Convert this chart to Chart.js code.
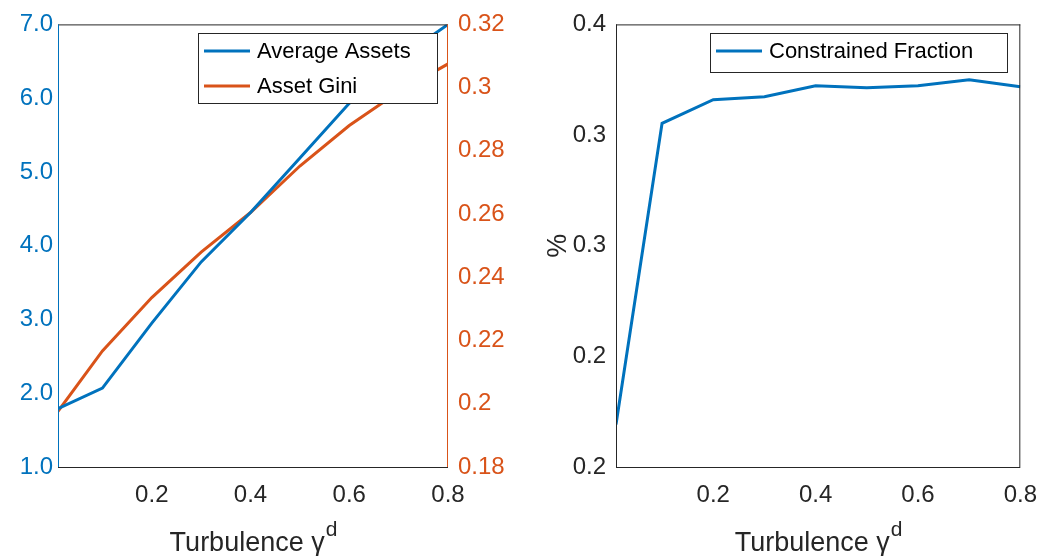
<!DOCTYPE html>
<html><head><meta charset="utf-8">
<script src="https://cdn.jsdelivr.net/npm/chart.js@4/dist/chart.umd.min.js"></script>
<style>body{margin:0;background:#fff;width:1041px;height:556px;overflow:hidden;position:relative}
canvas{position:absolute;top:0}</style></head><body>
<canvas id="c1" width="520" height="556" style="left:0;width:520px;height:556px"></canvas><canvas id="c2" width="531" height="556" style="left:520px;width:531px;height:556px"></canvas>
<script>
const turbulence=[0.01,0.1,0.2,0.3,0.4,0.5,0.6,0.7,0.8];
const averageAssets=[1.79,2.07,2.95,3.78,4.45,5.19,5.93,6.53,7.0];
const assetGini=[0.1976,0.2167,0.2336,0.248,0.2605,0.2752,0.288,0.2987,0.3075];
const constrainedFraction=[0.2192,0.3553,0.366,0.3673,0.3723,0.3714,0.3723,0.375,0.3718];
const leftTicks=['1.0','2.0','3.0','4.0','5.0','6.0','7.0'];
const rightTicks=['0.18','0.2','0.22','0.24','0.26','0.28','0.3','0.32'];
const cfTicks=['0.2','0.2','0.3','0.3','0.4'];
const BLUE='#0072BD',ORANGE='#D95319',DARK='#262626',F='"Liberation Sans", Arial, sans-serif';
Chart.defaults.font.family=F;
function fit(w){return function(s){s.width=w;};}
function fith(h){return function(s){s.height=h;};}
function frame(legendItems,lx,ly,lw,lh,leftCol,rightCol){
 return {id:'fr',afterDraw(c){const a=c.chartArea,x=c.ctx;x.save();x.lineWidth=1;
  x.strokeStyle='#262626';x.beginPath();x.moveTo(a.left,a.bottom+0.5);x.lineTo(a.right,a.bottom+0.5);x.stroke();
  x.beginPath();x.moveTo(a.left,a.top+0.5);x.lineTo(a.right,a.top+0.5);x.stroke();
  x.strokeStyle=leftCol;x.beginPath();x.moveTo(a.left+0.5,a.top);x.lineTo(a.left+0.5,a.bottom);x.stroke();
  x.strokeStyle=rightCol;x.beginPath();x.moveTo(a.right-0.5,a.top);x.lineTo(a.right-0.5,a.bottom);x.stroke();
  x.fillStyle=DARK;x.font='27px '+F;x.textBaseline='alphabetic';
  const t='Turbulence \u03b3',w=x.measureText(t).width;x.font='21px '+F;const w2=x.measureText('d').width;
  const sx=(a.left+a.right)/2-(w+w2)/2;x.font='27px '+F;x.fillText(t,sx,551);x.font='21px '+F;x.fillText('d',sx+w+1,536);
  x.fillStyle='#fff';x.fillRect(lx,ly,lw,lh);x.strokeStyle='#262626';x.lineWidth=1;x.strokeRect(lx+0.5,ly+0.5,lw,lh);
  x.font='22px '+F;x.textBaseline='middle';
  legendItems.forEach((it,i)=>{const yy=ly+18+i*35;x.strokeStyle=it[1];x.lineWidth=3;x.beginPath();x.moveTo(lx+6,yy);x.lineTo(lx+52,yy);x.stroke();x.fillStyle='#000';x.fillText(it[0],lx+59,yy+1);});
  x.restore();}};
}
function xAxis(){return {type:'linear',min:0.01,max:0.8,afterFit:fith(89),grid:{display:false,drawTicks:false},border:{display:false},
 afterBuildTicks:s=>{s.ticks=[0.2,0.4,0.6,0.8].map(v=>({value:v}));},
 ticks:{color:DARK,font:{size:24},padding:14,callback:v=>String(v)}};}
new Chart(document.getElementById('c1'),{type:'line',
 data:{datasets:[
  {data:turbulence.map((t,i)=>({x:t,y:averageAssets[i]})),borderColor:BLUE,borderWidth:3,pointRadius:0,yAxisID:'y'},
  {data:turbulence.map((t,i)=>({x:t,y:assetGini[i]})),borderColor:ORANGE,borderWidth:3,pointRadius:0,yAxisID:'y2'}]},
 options:{responsive:false,animation:false,layout:{padding:{top:20,left:0,right:0,bottom:0}},
  plugins:{legend:{display:false},tooltip:{enabled:false}},
  scales:{x:xAxis(),
   y:{position:'left',min:1,max:7,afterFit:fit(58),grid:{display:false,drawTicks:false},border:{display:false},
    afterBuildTicks:s=>{s.ticks=leftTicks.map(v=>({value:+v}));},ticks:{color:BLUE,font:{size:24},padding:5,callback:(v,i)=>leftTicks[i]}},
   y2:{position:'right',min:0.18,max:0.32,afterFit:fit(72),grid:{display:false,drawTicks:false},border:{display:false},
    afterBuildTicks:s=>{s.ticks=rightTicks.map(v=>({value:+v}));},ticks:{color:ORANGE,font:{size:24},padding:10,callback:(v,i)=>rightTicks[i]}}}},
 plugins:[frame([['Average Assets',BLUE],['Asset Gini',ORANGE]],198,33,239,70,BLUE,ORANGE)]});
new Chart(document.getElementById('c2'),{type:'line',
 data:{datasets:[{data:turbulence.map((t,i)=>({x:t,y:constrainedFraction[i]})),borderColor:BLUE,borderWidth:3,pointRadius:0}]},
 options:{responsive:false,animation:false,layout:{padding:{top:20,right:1}},
  plugins:{legend:{display:false},tooltip:{enabled:false}},
  scales:{x:xAxis(),
   y:{min:0.2,max:0.4,afterFit:fit(96),grid:{display:false,drawTicks:false},border:{display:false},
    afterBuildTicks:s=>{s.ticks=[0.2,0.25,0.3,0.35,0.4].map(v=>({value:v}));},
    title:{display:true,text:'%',color:DARK,font:{size:27},padding:{top:22,bottom:4}},
    ticks:{color:DARK,font:{size:24},padding:10,callback:(v,i)=>cfTicks[i]}}}},
 plugins:[frame([['Constrained Fraction',BLUE]],190,33,297,39,'#262626','#262626')]});
</script>
</body></html>
